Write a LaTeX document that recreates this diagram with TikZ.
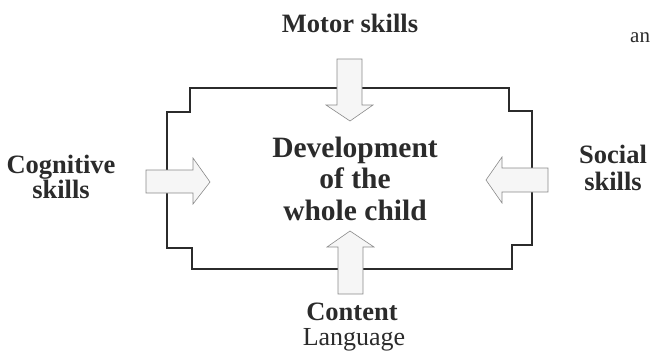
\documentclass[tikz,border=0pt]{standalone}
\usepackage{fontspec}
\setmainfont{Liberation Serif}
\definecolor{ink}{HTML}{2B2B2B}
\definecolor{arrowfill}{HTML}{F6F6F6}
\definecolor{arrowline}{HTML}{8A8A8A}
\tikzset{
  frame/.style={draw=ink, line width=1.1pt, line join=miter},
  blockarrow/.style={draw=arrowline, fill=arrowfill, line width=0.6pt, line join=miter},
  label/.style={anchor=base, text=ink, inner sep=0pt, font=\fontsize{26.5}{30}\selectfont\bfseries},
  title/.style={anchor=base, text=ink, inner sep=0pt, font=\fontsize{29.5}{33}\selectfont\bfseries},
}
\begin{document}
\begin{tikzpicture}[x=1pt, y=-1pt]
\useasboundingbox (0,0) rectangle (651,360);

% stepped outline around the centre
\draw[frame] (190,88) -- (509,88) -- (509,111) -- (532,111) -- (532,245)
  -- (512,245) -- (512,269) -- (192,269) -- (192,248) -- (167,248)
  -- (167,112) -- (190,112) -- cycle;

% block arrows pointing inwards
\draw[blockarrow] (337,59) -- (362,59) -- (362,105) -- (373,105) -- (350,121)
  -- (326,105) -- (337,105) -- cycle;
\draw[blockarrow] (338,294) -- (363,294) -- (363,247) -- (374,247) -- (350,231)
  -- (327,247) -- (338,247) -- cycle;
\draw[blockarrow] (146,170) -- (193,170) -- (193,158) -- (210,182) -- (193,204)
  -- (193,193) -- (146,193) -- cycle;
\draw[blockarrow] (548,168) -- (502,168) -- (502,157) -- (486,180) -- (502,203)
  -- (502,192) -- (548,192) -- cycle;

% centre title
\node[title] (dev)   at (355,157) {Development};
\node[title] (ofthe) at (355,188) {of the};
\node[title] (whole) at (355,220) {whole child};

% surrounding labels
\node[label] (motor) at (350,32) {Motor skills};
\node[label] (cog1)  at (61,173) {Cognitive};
\node[label] (cog2)  at (61,198) {skills};
\node[label] (soc1)  at (613,163) {Social};
\node[label] (soc2)  at (613,190) {skills};
\node[label] (cont)  at (352,320) {Content};
\node[anchor=base, text=ink, inner sep=0pt, font=\fontsize{26}{30}\selectfont] (lang) at (354,345) {Language};

% fragment of neighbouring text
\node[anchor=base west, text=ink, inner sep=0pt, font=\fontsize{21}{24}\selectfont] (an) at (630,42) {an};
\end{tikzpicture}
\end{document}
